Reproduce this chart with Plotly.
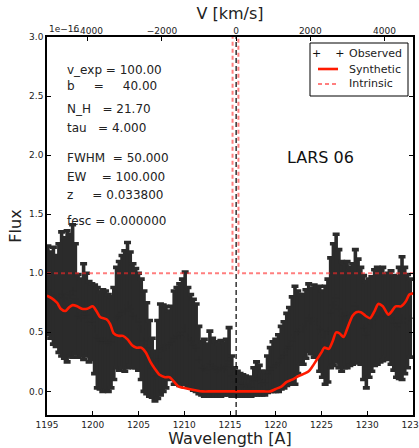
import plotly.graph_objects as go

# Observed spectrum: wavelength grid [A], upper and lower extent of each flux error bar
obs_wave = [
    1195.1, 1195.4, 1195.7, 1196.0, 1196.3, 1196.6, 1196.9, 1197.2, 1197.5, 1197.8,
    1198.1, 1198.4, 1198.7, 1199.0, 1199.3, 1199.6, 1199.9, 1200.2, 1200.5, 1200.8,
    1201.1, 1201.4, 1201.7, 1202.0, 1202.3, 1202.6, 1202.9, 1203.2, 1203.5, 1203.8,
    1204.1, 1204.4, 1204.7, 1205.0, 1205.3, 1205.6, 1205.9, 1206.2, 1206.5, 1206.8,
    1207.1, 1207.4, 1207.7, 1208.0, 1208.3, 1208.6, 1208.9, 1209.2, 1209.5, 1209.8,
    1210.1, 1210.4, 1210.7, 1211.0, 1211.3, 1211.6, 1211.9, 1212.2, 1212.5, 1212.8,
    1213.1, 1213.4, 1213.7, 1214.0, 1214.3, 1214.6, 1214.9, 1215.2, 1215.5, 1215.8,
    1216.1, 1216.4, 1216.7, 1217.0, 1217.3, 1217.6, 1217.9, 1218.2, 1218.5, 1218.8,
    1219.1, 1219.4, 1219.7, 1220.0, 1220.3, 1220.6, 1220.9, 1221.2, 1221.5, 1221.8,
    1222.1, 1222.4, 1222.7, 1223.0, 1223.3, 1223.6, 1223.9, 1224.2, 1224.5, 1224.8,
    1225.1, 1225.4, 1225.7, 1226.0, 1226.3, 1226.6, 1226.9, 1227.2, 1227.5, 1227.8,
    1228.1, 1228.4, 1228.7, 1229.0, 1229.3, 1229.6, 1229.9, 1230.2, 1230.5, 1230.8,
    1231.1, 1231.4, 1231.7, 1232.0, 1232.3, 1232.6, 1232.9, 1233.2, 1233.5, 1233.8,
    1234.1, 1234.4, 1234.7,
]
obs_upper = [
    1.23, 1.18, 1.22, 1.15, 1.25, 1.35, 1.30, 1.36, 1.33, 1.41,
    1.25, 0.99, 0.95, 1.08, 1.00, 0.93, 0.91, 0.90, 0.88, 0.84,
    0.86, 0.85, 0.82, 0.80, 0.88, 1.05, 1.10, 1.15, 1.19, 1.26,
    1.18, 1.08, 1.04, 1.00, 0.95, 0.85, 0.75, 0.60, 0.45, 0.34,
    0.60, 0.74, 0.73, 0.72, 0.68, 0.72, 0.85, 0.88, 0.91, 0.95,
    1.01, 0.88, 0.82, 0.78, 0.74, 0.55, 0.42, 0.44, 0.40, 0.51,
    0.45, 0.42, 0.40, 0.43, 0.41, 0.44, 0.54, 0.30, 0.20, 0.17,
    0.15, 0.14, 0.13, 0.12, 0.12, 0.20, 0.25, 0.22, 0.17, 0.17,
    0.30, 0.37, 0.42, 0.44, 0.48, 0.55, 0.59, 0.66, 0.71, 0.80,
    0.89, 0.85, 0.82, 0.82, 0.86, 0.91, 0.87, 0.90, 0.88, 0.89,
    0.85, 0.89, 0.95, 1.13, 1.25, 1.33, 1.20, 1.10, 1.08, 1.10,
    1.05, 1.08, 1.20, 1.12, 1.05, 0.98, 0.93, 0.95, 0.97, 1.03,
    1.05, 1.02, 1.05, 0.99, 1.00, 1.02, 0.98, 0.97, 1.05, 1.14,
    1.05, 0.99, 0.95,
]
obs_lower = [
    0.48, 0.45, 0.40, 0.38, 0.33, 0.30, 0.28, 0.25, 0.30, 0.29,
    0.32, 0.29, 0.30, 0.27, 0.30, 0.25, 0.27, 0.15, 0.03, 0.02,
    0.00, 0.01, 0.00, 0.03, 0.10, 0.20, 0.18, 0.20, 0.17, 0.20,
    0.22, 0.20, 0.20, 0.18, 0.10, 0.00, -0.02, -0.04, -0.05, -0.08,
    -0.06, -0.03, 0.00, 0.03, 0.10, 0.12, 0.06, 0.06, 0.05, 0.06,
    0.06, 0.04, 0.03, 0.01, 0.00, -0.02, -0.03, -0.04, -0.04, -0.04,
    -0.04, -0.04, -0.04, -0.04, -0.03, -0.03, -0.03, -0.04, -0.04, -0.04,
    -0.04, -0.04, -0.04, -0.04, -0.04, -0.03, -0.03, -0.03, -0.03, -0.03,
    -0.01, 0.00, 0.00, 0.00, 0.00, 0.02, 0.03, 0.05, 0.06, 0.06,
    0.06, 0.15, 0.23, 0.23, 0.28, 0.34, 0.32, 0.29, 0.29, 0.17,
    0.12, 0.06, 0.08, 0.20, 0.22, 0.25, 0.20, 0.17, 0.20, 0.20,
    0.22, 0.23, 0.25, 0.24, 0.23, 0.10, 0.03, 0.12, 0.17, 0.22,
    0.23, 0.25, 0.26, 0.29, 0.27, 0.23, 0.18, 0.12, 0.11, 0.10,
    0.15, 0.20, 0.29,
]

# Synthetic (model) spectrum
syn_wave = [
    1195.0, 1195.5, 1196.1, 1196.5, 1197.0, 1197.4, 1197.8, 1198.3, 1198.8, 1199.4,
    1200.0, 1200.4, 1200.8, 1201.5, 1201.9, 1202.3, 1202.8, 1203.3, 1203.8, 1204.3,
    1204.8, 1205.3, 1205.8, 1206.3, 1206.8, 1207.3, 1207.9, 1208.4, 1208.9, 1209.4,
    1209.9, 1210.5, 1211.2, 1212.0, 1213.0, 1215.0, 1217.0, 1218.7, 1219.4, 1220.0,
    1220.6, 1221.2, 1221.8, 1222.5, 1223.1, 1223.6, 1224.0, 1224.5, 1225.0, 1225.3,
    1225.8, 1226.2, 1226.6, 1227.0, 1227.4, 1227.9, 1228.4, 1228.8, 1229.3, 1229.8,
    1230.3, 1230.8, 1231.2, 1231.7, 1232.3, 1232.7, 1233.1, 1233.7, 1234.2, 1234.6,
    1235.0,
]
syn_flux = [
    0.81, 0.79, 0.75, 0.70, 0.68, 0.71, 0.73, 0.72, 0.70, 0.70,
    0.72, 0.68, 0.63, 0.61, 0.57, 0.49, 0.47, 0.47, 0.44, 0.39,
    0.37, 0.37, 0.33, 0.25, 0.19, 0.14, 0.12, 0.12, 0.08, 0.04,
    0.03, 0.02, 0.01, 0.00, 0.00, 0.00, 0.00, 0.00, 0.00, 0.02,
    0.04, 0.08, 0.10, 0.13, 0.15, 0.17, 0.21, 0.27, 0.33, 0.37,
    0.36, 0.42, 0.50, 0.49, 0.46, 0.55, 0.64, 0.67, 0.67, 0.64,
    0.62, 0.68, 0.74, 0.72, 0.65, 0.68, 0.72, 0.72, 0.76, 0.82,
    0.83,
]

# Intrinsic profile: flat continuum with a narrow Lya emission spike
int_wave = [1195.0, 1215.27, 1215.60, 1215.93, 1235.0]
int_flux = [1.0, 1.0, 45.0, 1.0, 1.0]

# Fit parameters printed on the panel
params = [
    ("v_exp", "100.00"), ("b", "40.00"), ("N_H", "21.70"), ("tau", "4.000"),
    ("FWHM", "50.000"), ("EW", "100.000"), ("z", "0.033800"), ("fesc", "0.000000"),
]

LYA = 1215.67
C_KMS = 299792.458
WAVE_RANGE = [1195.0, 1235.0]
FLUX_RANGE = [-0.2, 3.0]
wave_ticks = [1195, 1200, 1205, 1210, 1215, 1220, 1225, 1230, 1235]
flux_ticks = [0.0, 0.5, 1.0, 1.5, 2.0, 2.5, 3.0]
vel_ticks = [-4000, -2000, 0, 2000, 4000]

obs_flux = [(u + l) / 2 for u, l in zip(obs_upper, obs_lower)]
obs_err = [(u - l) / 2 for u, l in zip(obs_upper, obs_lower)]


def to_vel(w):
    return C_KMS * (w - LYA) / LYA


FONT = "DejaVu Sans, Verdana, sans-serif"
OBS_COLOR = "#2b2b2b"
fig = go.Figure()

fig.add_trace(go.Scatter(
    x=obs_wave, y=obs_flux, mode="markers",
    marker=dict(symbol="cross-thin", size=5, color=OBS_COLOR,
                line=dict(width=1, color=OBS_COLOR)),
    error_y=dict(type="data", array=obs_err, visible=True,
                 color=OBS_COLOR, thickness=3.6, width=3.5),
    showlegend=False, hoverinfo="skip",
))
fig.add_trace(go.Scatter(
    x=syn_wave, y=syn_flux, mode="lines",
    line=dict(color="#ff1a00", width=2.6, shape="spline", smoothing=0.7),
    showlegend=False, hoverinfo="skip",
))
fig.add_trace(go.Scatter(
    x=int_wave, y=int_flux, mode="lines",
    line=dict(color="rgba(255,40,40,0.6)", width=2, dash="4px,3px"),
    showlegend=False, hoverinfo="skip",
))
# invisible trace carrying the velocity axis on top
fig.add_trace(go.Scatter(
    x=[to_vel(w) for w in WAVE_RANGE], y=FLUX_RANGE, xaxis="x2",
    mode="markers", marker=dict(opacity=0), showlegend=False, hoverinfo="skip",
))

# Lya rest-frame position
fig.add_shape(type="line", xref="x", yref="paper", x0=LYA, x1=LYA, y0=0, y1=1,
              line=dict(color="black", width=1.2, dash="5px,3px"))

tick_font = dict(family=FONT, size=9, color="#222")
fig.update_layout(
    width=419, height=448,
    margin=dict(l=47, r=6, t=37, b=33, autoexpand=False),
    paper_bgcolor="white", plot_bgcolor="white",
    font=dict(family=FONT, color="#222"),
    xaxis=dict(
        range=WAVE_RANGE, tickvals=wave_ticks, ticktext=[str(t) for t in wave_ticks],
        ticks="inside", ticklen=4, tickwidth=1, tickcolor="black",
        showline=True, linecolor="black", linewidth=1.5, mirror=True, automargin=False,
        showgrid=False, zeroline=False, tickfont=tick_font, ticklabeloverflow="allow",
        title=dict(text="Wavelength [A]", font=dict(family=FONT, size=16, color="#222"), standoff=2),
    ),
    xaxis2=dict(
        overlaying="x", side="top", anchor="y", automargin=False,
        range=[to_vel(w) for w in WAVE_RANGE], tickvals=vel_ticks,
        ticktext=[str(v).replace("-", "\u2212") for v in vel_ticks],
        ticks="inside", ticklen=4, tickwidth=1, tickcolor="black",
        showline=False, showgrid=False, zeroline=False, tickfont=tick_font,
        title=dict(text="V [km/s]", font=dict(family=FONT, size=16, color="#222"), standoff=2),
    ),
    yaxis=dict(
        range=FLUX_RANGE, tickvals=flux_ticks, ticktext=[f"{t:.1f}" for t in flux_ticks],
        ticks="inside", ticklen=4, tickwidth=1, tickcolor="black", automargin=False,
        showline=True, linecolor="black", linewidth=1.5, mirror="ticks",
        showgrid=False, zeroline=False, tickfont=tick_font,
        title=dict(text="Flux", font=dict(family=FONT, size=16, color="#222"), standoff=4),
    ),
)

# offset label of the top axis
fig.add_annotation(xref="paper", yref="paper", x=0.0, y=1.0, xanchor="left", yanchor="bottom",
                   yshift=1, text="1e\u221216", showarrow=False, font=dict(family=FONT, size=9, color="#222"))

# parameter block
NB = "\u00a0"
param_y = [0.9127, 0.8704, 0.8095, 0.7593, 0.6799, 0.6296, 0.582, 0.5132]
pad = {"v_exp": 1, "b": 5, "N_H": 3, "tau": 3, "FWHM": 2, "EW": 4, "z": 5, "fesc": 1}
val_pad = {"b": 4}
for (name, val), yy in zip(params, param_y):
    txt = name + NB * pad[name] + "=" + NB * (1 + val_pad.get(name, 0)) + val
    fig.add_annotation(xref="paper", yref="paper", x=0.049, y=yy, xanchor="left", yanchor="middle",
                       text=txt, showarrow=False, font=dict(family=FONT, size=12, color="#222"))

fig.add_annotation(xref="paper", yref="paper", x=0.746, y=0.6825, xanchor="center", yanchor="middle",
                   text="LARS 06", showarrow=False, font=dict(family=FONT, size=16, color="#111"))


# legend box (positions in plot-area pixels)
def px(xp):
    return (xp - 47) / 366


def py(yp):
    return (415 - yp) / 378


fig.add_shape(type="rect", xref="paper", yref="paper", x0=px(310), x1=px(408), y0=py(96), y1=py(43),
              line=dict(color="black", width=1), fillcolor="white", layer="above")
fig.add_annotation(xref="paper", yref="paper", x=px(327.5), y=py(53), xanchor="center", yanchor="middle",
                   text="+" + NB * 4 + "+", showarrow=False, font=dict(family=FONT, size=11, color="#111"))
fig.add_shape(type="line", xref="paper", yref="paper", x0=px(318), x1=px(338), y0=py(69), y1=py(69),
              line=dict(color="#ff1a00", width=2.6), layer="above")
fig.add_shape(type="line", xref="paper", yref="paper", x0=px(318), x1=px(338), y0=py(84), y1=py(84),
              line=dict(color="rgba(255,40,40,0.6)", width=2, dash="4px,3px"), layer="above")
for lab, yl in [("Observed", 53), ("Synthetic", 69), ("Intrinsic", 84)]:
    fig.add_annotation(xref="paper", yref="paper", x=px(347), y=py(yl), xanchor="left", yanchor="middle",
                       text=lab, showarrow=False, font=dict(family=FONT, size=11, color="#222"))

fig.write_html("out.html")
